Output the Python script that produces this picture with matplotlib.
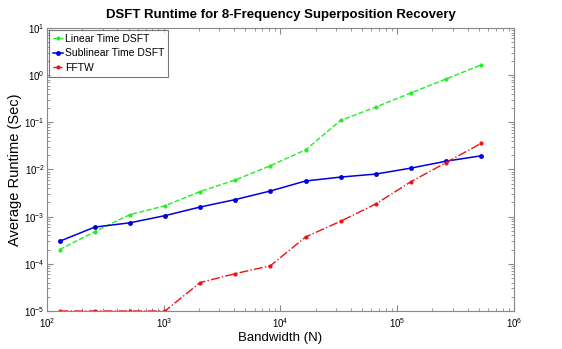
import matplotlib
matplotlib.use("Agg")
import matplotlib.pyplot as plt
from matplotlib.ticker import NullFormatter

plt.rcParams['font.family'] = ['Liberation Sans', 'DejaVu Sans']

# bandwidths 2^7 .. 2^19
bandwidth = [128, 256, 512, 1024, 2048, 4096, 8192, 16384, 32768,
             65536, 131072, 262144, 524288]

linear_dsft = [2.0e-4, 4.8e-4, 1.1e-3, 1.7e-3, 3.4e-3, 6.0e-3, 1.2e-2,
               2.6e-2, 1.1e-1, 2.1e-1, 4.2e-1, 8.3e-1, 1.65]
sublinear_dsft = [3.0e-4, 6.0e-4, 7.4e-4, 1.05e-3, 1.6e-3, 2.3e-3, 3.5e-3,
                  5.7e-3, 6.9e-3, 8.0e-3, 1.07e-2, 1.5e-2, 1.95e-2]
fftw = [1e-5, 1e-5, 1e-5, 1e-5, 4.0e-5, 6.2e-5, 9.1e-5, 3.7e-4, 8.0e-4,
        1.86e-3, 5.5e-3, 1.4e-2, 3.6e-2]

fig = plt.figure(figsize=(5.62, 3.49), dpi=100)
ax = fig.add_axes([0.0836, 0.1089, 0.831, 0.811])

ax.loglog(bandwidth, linear_dsft, '--', color='#22ee22', marker='.',
          markersize=4, linewidth=1.0, label='Linear Time DSFT')
ax.loglog(bandwidth, sublinear_dsft, '-', color='#0000dd', marker='.',
          markersize=5, linewidth=1.1, label='Sublinear Time DSFT')
ax.loglog(bandwidth, fftw, '-.', color='#ee1111', marker='.',
          markersize=4, linewidth=1.0, label='FFTW')

ax.set_xlim(1e2, 1e6)
ax.set_ylim(1e-5, 1e1)

ax.set_title('DSFT Runtime for 8-Frequency Superposition Recovery',
             fontsize=9.5, fontweight='bold', pad=7)
ax.set_xlabel('Bandwidth (N)', fontsize=9.5, labelpad=2)
ax.set_ylabel('Average Runtime (Sec)', fontsize=10.5)
ax.yaxis.set_label_coords(-0.053, 0.5)

ax.xaxis.set_minor_formatter(NullFormatter())
ax.yaxis.set_minor_formatter(NullFormatter())
ax.tick_params(which='both', direction='in', top=True, right=True,
               labelsize=7, color='#888888')
ax.tick_params(which='major', length=4)
ax.tick_params(which='minor', length=2)
ax.tick_params(axis='y', pad=1.5)
for s in ax.spines.values():
    s.set_color('#888888')

leg = ax.legend(loc='upper left', fontsize=7.5, fancybox=False,
                borderaxespad=0.2, handlelength=1.0, handletextpad=0.15,
                labelspacing=0.45, borderpad=0.35)
leg.get_frame().set_edgecolor('#555555')
leg.get_frame().set_linewidth(0.8)

fig.savefig('out.png', dpi=100)
